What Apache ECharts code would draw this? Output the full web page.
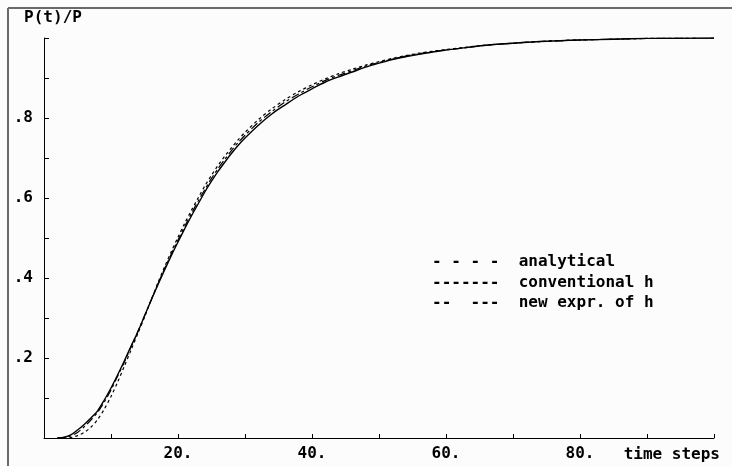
<!DOCTYPE html>
<html>
<head>
<meta charset="utf-8">
<script src="https://cdn.jsdelivr.net/npm/echarts@6/dist/echarts.min.js"></script>
<style>
html,body{margin:0;padding:0;background:#fcfcfc;}
#chart{width:732px;height:466px;}
</style>
</head>
<body>
<div id="chart"></div>
<script>
// time steps (x values)
const steps = [2,3,4,5,6,7,8,9,10,11,12,13,14,15,16,17,18,19,20,21,22,23,24,25,26,27,28,29,30,
  32,34,36,38,40,42,44,46,48,50,52,54,56,58,60,
  63,66,70,75,80,85,90,95,100];

const analytical = [0,0,0.001,0.006,0.014,0.027,0.046,0.072,0.104,0.14,0.18,0.22,0.261,0.302,0.345,0.388,0.428,0.466,0.502,0.537,0.569,0.6,0.63,0.657,0.682,0.705,0.726,0.746,0.764,
  0.796,0.823,0.846,0.866,0.883,0.898,0.911,0.922,0.932,0.941,0.949,0.956,0.962,0.967,0.971,
  0.977,0.982,0.987,0.992,0.995,0.997,0.999,0.9995,1.0];

const conventional = [0,0.002,0.008,0.02,0.034,0.05,0.068,0.095,0.125,0.158,0.193,0.23,0.265,0.305,0.345,0.383,0.42,0.456,0.49,0.523,0.555,0.585,0.615,0.642,0.667,0.69,0.712,0.732,0.75,
  0.782,0.81,0.833,0.855,0.873,0.89,0.903,0.915,0.927,0.937,0.946,0.953,0.959,0.965,0.97,
  0.976,0.982,0.987,0.992,0.995,0.997,0.999,0.9995,1.0];

const newExpr = [0,0.001,0.005,0.014,0.028,0.045,0.064,0.09,0.12,0.155,0.19,0.228,0.266,0.305,0.345,0.385,0.423,0.46,0.495,0.529,0.561,0.592,0.621,0.649,0.674,0.697,0.719,0.739,0.757,
  0.789,0.816,0.84,0.86,0.878,0.894,0.907,0.918,0.93,0.939,0.947,0.955,0.961,0.966,0.97,
  0.976,0.982,0.987,0.992,0.995,0.997,0.999,0.9995,1.0];

const seriesNames = ['analytical', 'conventional h', 'new expr. of h'];
const legendMarks = ['- - - -', '-------', '--  ---'];

const xLabelValues = [20, 40, 60, 80];
const xLabelTexts = ['20.', '40.', '60.', '80.'];
const yLabelValues = [0.2, 0.4, 0.6, 0.8];
const yLabelTexts = ['.2', '.4', '.6', '.8'];

const FONT = '"DejaVu Sans Mono", "Liberation Mono", monospace';

function zip(xs, ys) { return xs.map((x, i) => [x, ys[i]]); }

const chart = echarts.init(document.getElementById('chart'), null, {renderer: 'canvas'});

const dashStyles = [[3, 3], null, [8, 3, 3, 3]];
const widths = [1.2, 1.4, 1.2];
const dataSets = [analytical, conventional, newExpr];

chart.setOption({
  animation: false,
  backgroundColor: '#fcfcfc',
  grid: {left: 44, top: 38, right: 18, bottom: 28, containLabel: false},
  legend: {
    orient: 'vertical',
    left: 421,
    top: 249,
    icon: 'none',
    itemWidth: 1,
    itemHeight: 14,
    itemGap: 4.5,
    data: seriesNames,
    formatter: function (name) {
      return legendMarks[seriesNames.indexOf(name)] + '  ' + name;
    },
    textStyle: {fontFamily: FONT, fontWeight: 'bold', fontSize: 16, color: '#000', lineHeight: 16}
  },
  xAxis: {
    type: 'value',
    min: 0, max: 100, interval: 10,
    name: 'time steps',
    nameLocation: 'end',
    nameGap: 6,
    nameTextStyle: {fontFamily: FONT, fontWeight: 'bold', fontSize: 16, color: '#000',
      align: 'right', verticalAlign: 'top', padding: [9, 0, 0, 0]},
    axisLine: {lineStyle: {color: '#000', width: 1}},
    axisTick: {inside: true, length: 4, lineStyle: {color: '#000'}},
    splitLine: {show: false},
    axisLabel: {
      fontFamily: FONT, fontWeight: 'bold', fontSize: 16, color: '#000', margin: 8,
      formatter: function (v) {
        const i = xLabelValues.indexOf(Math.round(v));
        return i >= 0 ? xLabelTexts[i] : '';
      }
    }
  },
  yAxis: {
    type: 'value',
    min: 0, max: 1, interval: 0.1,
    name: 'P(t)/P',
    nameLocation: 'end',
    nameGap: 12,
    nameTextStyle: {fontFamily: FONT, fontWeight: 'bold', fontSize: 16, color: '#000',
      align: 'center', padding: [0, 0, 0, 18]},
    axisLine: {show: true, lineStyle: {color: '#000', width: 1}},
    axisTick: {show: true, inside: true, length: 5, lineStyle: {color: '#000'}},
    splitLine: {show: false},
    axisLabel: {
      fontFamily: FONT, fontWeight: 'bold', fontSize: 16, color: '#000', margin: 11,
      formatter: function (v) {
        const i = yLabelValues.findIndex(t => Math.abs(t - v) < 1e-6);
        return i >= 0 ? yLabelTexts[i] : '';
      }
    }
  },
  series: seriesNames.map((name, k) => ({
    name: name,
    type: 'line',
    data: zip(steps, dataSets[k]),
    symbol: 'none',
    smooth: 0.3,
    lineStyle: {color: '#000', width: widths[k], type: dashStyles[k] || 'solid'},
    itemStyle: {color: '#000'}
  })),
  graphic: [
    {type: 'line', shape: {x1: 8, y1: 8, x2: 732, y2: 8}, style: {stroke: '#6a6a6a', lineWidth: 2}, silent: true},
    {type: 'line', shape: {x1: 8, y1: 8, x2: 8, y2: 466}, style: {stroke: '#6a6a6a', lineWidth: 2}, silent: true}
  ]
});
</script>
</body>
</html>
